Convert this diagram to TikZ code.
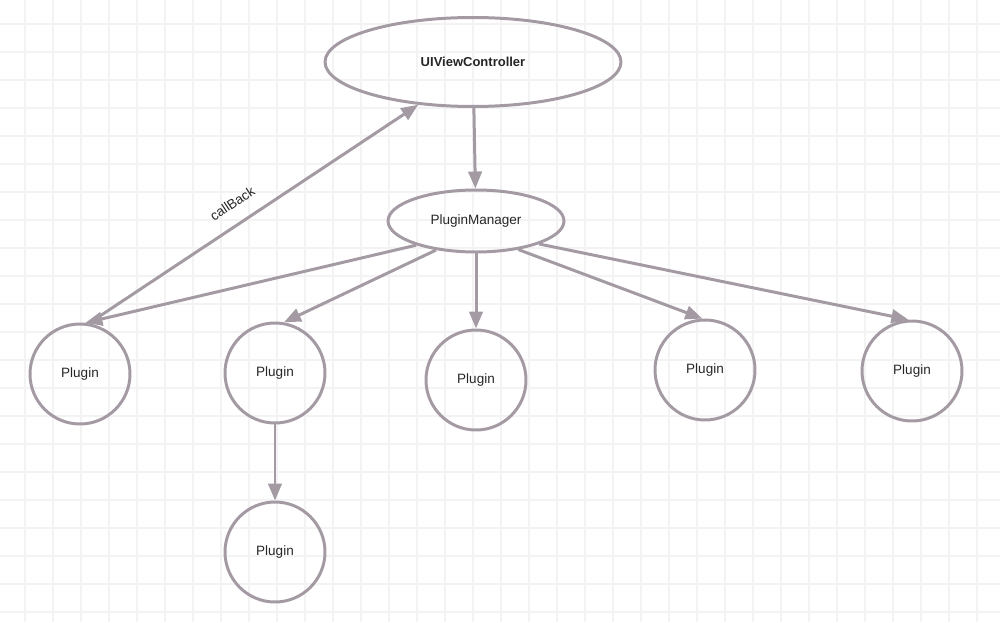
\documentclass[tikz,border=0pt]{standalone}
\usepackage{fontspec}
\setmainfont{Liberation Sans}
\usetikzlibrary{shapes.geometric,arrows.meta}
\definecolor{linegray}{RGB}{163,154,164}
\definecolor{gridgray}{RGB}{243,243,243}
\tikzset{
    gridline/.style={gridgray, line width=0.6pt},
    oval/.style={ellipse, draw=linegray, line width=1.7pt, inner sep=0pt, text=black!85, font=\fontsize{7.7}{9}\selectfont},
    plugin/.style={circle, draw=linegray, line width=1.7pt, minimum size=2cm, inner sep=0pt, text=black!85, font=\fontsize{7.7}{9}\selectfont},
    arr/.style={linegray, line width=1.7pt, -{Triangle[length=0.34cm,width=0.27cm]}}
}
\begin{document}
\begin{tikzpicture}[x=0.02cm, y=-0.02cm]
        \useasboundingbox (0,0) rectangle (1000,622);
    % Background grid.
        \foreach \x in {25,53,...,997}
            \draw[gridline] (\x,0) -- (\x,622);
        \foreach \y in {24,52,...,612}
            \draw[gridline] (0,\y) -- (1000,\y);
    % Below nodes are the boxes.
        \node[oval, minimum width=5.92cm, minimum height=1.78cm, font=\fontsize{7.4}{9}\selectfont\bfseries] (vc) at (473,62) {UIViewController};
        \node[oval, minimum width=3.52cm, minimum height=1.24cm] (mgr) at (476,221) {PluginManager};
        \node[plugin] (p1) at (80,374) {Plugin};
        \node[plugin] (p2) at (275,373) {Plugin};
        \node[plugin] (p3) at (476,380) {Plugin};
        \node[plugin] (p4) at (705,370) {Plugin};
        \node[plugin] (p5) at (912,371) {Plugin};
        \node[plugin] (p6) at (275,552) {Plugin};
    % This draws the arrows.
        \draw[arr] (vc) -- (mgr);
        \draw[arr] (p1.80) -- (vc.218) node[pos=0.47, sloped, above=8pt, inner sep=0pt, text=black!85, font=\fontsize{7.7}{9}\selectfont] (cb) {callBack};
        \draw[arr] (mgr.202) -- (p1.84);
        \draw[arr] (mgr.216) -- (p2.80);
        \draw[arr] (mgr.south) -- (p3.north);
        \draw[arr] (mgr.326) -- (p4.93);
        \draw[arr] (mgr.340) -- (p5.94);
        \draw[arr] (p2) -- (p6);
    \end{tikzpicture}
\end{document}
